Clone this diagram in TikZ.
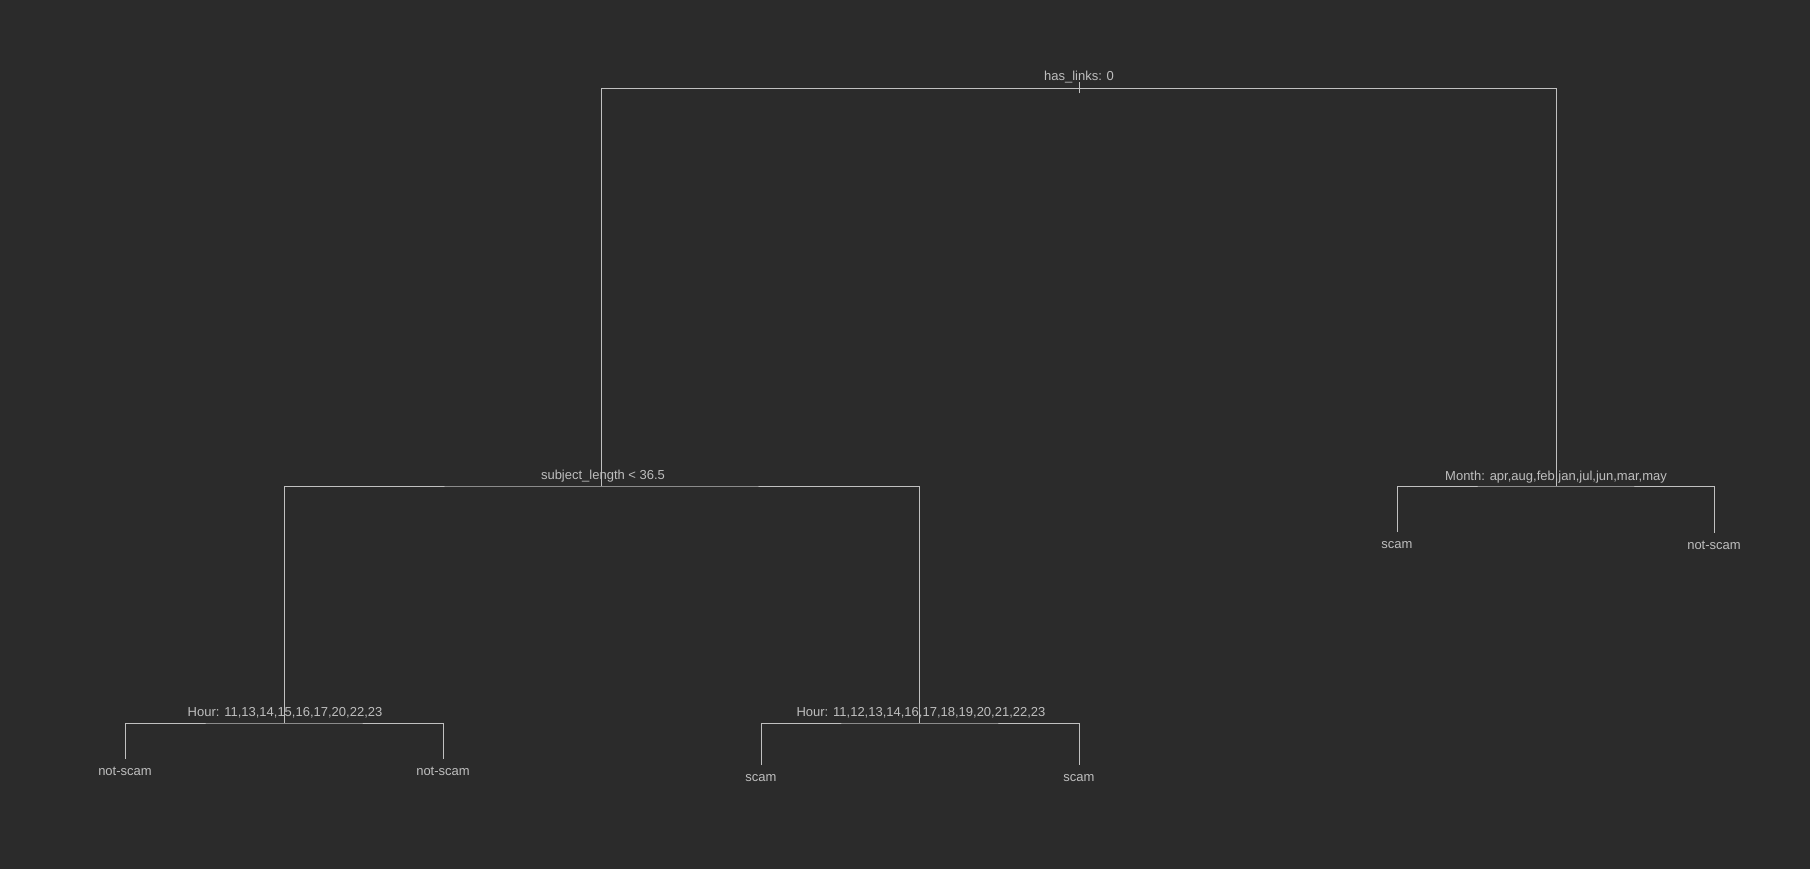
\documentclass[tikz,border=0pt]{standalone}
\usepackage{fontspec}
\setmainfont{Liberation Sans}
\definecolor{bgcol}{HTML}{2B2B2B}
\definecolor{linecol}{HTML}{C0C0C0}
\definecolor{textcol}{HTML}{BEBEBE}
\begin{document}
\begin{tikzpicture}[x=1pt, y=-1pt, line width=1pt,
  split/.style={anchor=base, text=textcol, inner sep=0pt, font=\fontsize{13}{15}\selectfont},
  leaf/.style={anchor=base, text=textcol, inner sep=0pt, font=\fontsize{13}{15}\selectfont},
  branch/.style={draw=linecol}]
  \fill[bgcol] (0,0) rectangle (1810,869);
  \useasboundingbox (0,0) rectangle (1810,869);
  % Split points
  \coordinate (root) at (1079,88.5);
  \coordinate (subj) at (601,486);
  \coordinate (month) at (1556,486);
  \coordinate (hourA) at (284,723);
  \coordinate (hourB) at (919,723);
  % Leaf ends
  \coordinate (leafA) at (125,759);
  \coordinate (leafB) at (443,759);
  \coordinate (leafC) at (761,765);
  \coordinate (leafD) at (1079,765);
  \coordinate (leafE) at (1397,532);
  \coordinate (leafF) at (1714,533);
  % Split labels
  \node[split] (rootlbl) at (1079,81) {has\_links: 0};
  \node[split] (subjlbl) at (603,479) {subject\_length < 36.5};
  \node[split] (monthlbl) at (1556,480) {Month: apr,aug,feb,jan,jul,jun,mar,may};
  \node[split] (hourAlbl) at (285,716) {Hour: 11,13,14,15,16,17,20,22,23};
  \node[split] (hourBlbl) at (921,716) {Hour: 11,12,13,14,16,17,18,19,20,21,22,23};
  % Leaf labels
  \node[leaf] (leafAlbl) at (125,775) {not-scam};
  \node[leaf] (leafBlbl) at (443,775) {not-scam};
  \node[leaf] (leafClbl) at (761,781) {scam};
  \node[leaf] (leafDlbl) at (1079,781) {scam};
  \node[leaf] (leafElbl) at (1397,548) {scam};
  \node[leaf] (leafFlbl) at (1714,549) {not-scam};
  % Branches
  \draw[branch] ([yshift=-5]root) -- ([yshift=6]root);
  \draw[branch] (subj) |- (root) -| (month);
  \draw[branch] (hourA) |- (subj) -| (hourB);
  \draw[branch] (leafE) |- (month) -| (leafF);
  \draw[branch] (leafA) |- (hourA) -| (leafB);
  \draw[branch] (leafC) |- (hourB) -| (leafD);
\end{tikzpicture}
\end{document}
